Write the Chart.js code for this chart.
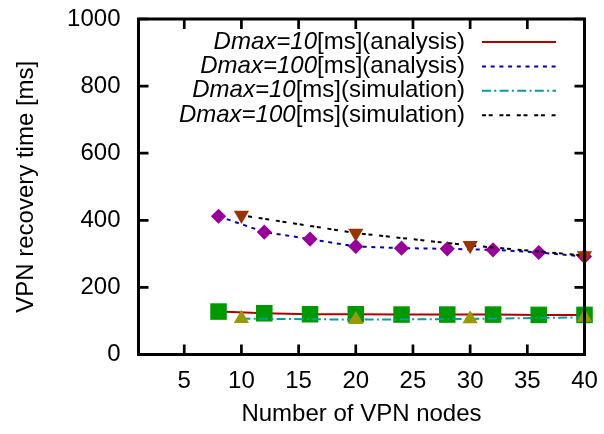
<!DOCTYPE html>
<html><head><meta charset="utf-8">
<script src="https://cdn.jsdelivr.net/npm/chart.js@4"></script>
<style>html,body{margin:0;padding:0;background:#fff}#wrap{width:604px;height:434px}</style>
</head><body><div id="wrap"><canvas id="c" width="604" height="434"></canvas></div>
<script>
// ---- data ----
const nodesAnalysis = [8, 12, 16, 20, 24, 28, 32, 36, 40];
const nodesSimulation = [10, 20, 30, 40];
const analysis10 = [128, 123, 120, 120, 119, 119, 119, 118, 118];
const analysis100 = [412, 365, 344, 322, 317, 315, 312, 304, 292];
const simulation10 = [107, 104, 106, 111];
const simulation100 = [415, 362, 325, 295];
const xTicks = [5, 10, 15, 20, 25, 30, 35, 40];
const yTicks = [0, 200, 400, 600, 800, 1000];
const seriesLabels = [
  'Dmax=10[ms](analysis)',
  'Dmax=100[ms](analysis)',
  'Dmax=10[ms](simulation)',
  'Dmax=100[ms](simulation)'
];
const xTitle = 'Number of VPN nodes';
const yTitle = 'VPN recovery time [ms]';

const FONT = '"Liberation Sans", Arial, Helvetica, sans-serif';
const pts = (xs, ys) => xs.map((x, i) => ({x: x, y: ys[i]}));

const lineDash = [[], [4, 4.7], [9, 3.3, 2, 3.3], [4, 2.7, 4, 6.7]];
const lineColors = ['#b00000', '#0000b4', '#00a0a0', '#000000'];

const zeroPad = s => { s.paddingTop = 0; s.paddingBottom = 0; s.paddingLeft = 0; s.paddingRight = 0; };

const framePlugin = {
  id: 'frame',
  afterDraw(chart) {
    const {ctx, chartArea: a, scales} = chart;
    ctx.save();
    ctx.strokeStyle = '#000';
    ctx.lineWidth = 3;
    ctx.lineCap = 'square';
    ctx.strokeRect(a.left, a.top, a.right - a.left, a.bottom - a.top);
    ctx.lineWidth = 2.7;
    ctx.lineCap = 'butt';
    const L = 10;
    ctx.beginPath();
    scales.x.ticks.forEach(t => {
      const px = scales.x.getPixelForValue(t.value);
      ctx.moveTo(px, a.bottom); ctx.lineTo(px, a.bottom - L);
      ctx.moveTo(px, a.top); ctx.lineTo(px, a.top + L);
    });
    scales.y.ticks.forEach(t => {
      const py = scales.y.getPixelForValue(t.value);
      ctx.moveTo(a.left, py); ctx.lineTo(a.left + L, py);
      ctx.moveTo(a.right, py); ctx.lineTo(a.right - L, py);
    });
    ctx.stroke();
    // legend
    const x0 = 465, rowY = [42, 66.4, 90.8, 115.2];
    ctx.textBaseline = 'middle';
    ctx.fillStyle = '#000';
    chart.data.datasets.forEach((ds, i) => {
      const label = ds.label;
      const k = label.indexOf('[');
      const italicPart = label.slice(0, k), normalPart = label.slice(k);
      const y = rowY[i];
      ctx.font = '24px ' + FONT;
      ctx.textAlign = 'right';
      const w = ctx.measureText(normalPart).width;
      ctx.fillText(normalPart, x0, y);
      ctx.font = 'italic 24px ' + FONT;
      ctx.fillText(italicPart, x0 - w, y);
      ctx.beginPath();
      ctx.strokeStyle = ds.borderColor;
      ctx.lineWidth = 2;
      ctx.setLineDash(ds.borderDash || []);
      ctx.moveTo(482, y); ctx.lineTo(556, y);
      ctx.stroke();
      ctx.setLineDash([]);
    });
    ctx.restore();
  }
};

new Chart(document.getElementById('c'), {
  type: 'line',
  data: {
    datasets: [
      {label: seriesLabels[0], data: pts(nodesAnalysis, analysis10), borderColor: lineColors[0], borderWidth: 2, borderDash: lineDash[0],
       pointStyle: 'rect', pointRadius: 11.7, pointBackgroundColor: '#009900', pointBorderColor: '#009900', pointBorderWidth: 0, order: 4},
      {label: seriesLabels[1], data: pts(nodesAnalysis, analysis100), borderColor: lineColors[1], borderWidth: 2, borderDash: lineDash[1],
       pointStyle: 'rectRot', pointRadius: 7.6, pointBackgroundColor: '#990099', pointBorderColor: '#990099', pointBorderWidth: 0, order: 3},
      {label: seriesLabels[2], data: pts(nodesSimulation, simulation10), borderColor: lineColors[2], borderWidth: 2, borderDash: lineDash[2],
       pointStyle: 'triangle', pointRadius: 8.8, pointBackgroundColor: '#999900', pointBorderColor: '#999900', pointBorderWidth: 0, order: 2},
      {label: seriesLabels[3], data: pts(nodesSimulation, simulation100), borderColor: lineColors[3], borderWidth: 2, borderDash: lineDash[3],
       pointStyle: 'triangle', pointRotation: 180, pointRadius: 8.8, pointBackgroundColor: '#993300', pointBorderColor: '#993300', pointBorderWidth: 0, order: 1}
    ]
  },
  options: {
    responsive: false,
    devicePixelRatio: 1,
    animation: false,
    clip: false,
    layout: {padding: {left: 0, top: 19, right: 19.5, bottom: 0}},
    plugins: {legend: {display: false}, tooltip: {enabled: false}},
    elements: {line: {tension: 0, fill: false}},
    scales: {
      x: {
        type: 'linear', min: 1, max: 40,
        afterBuildTicks: s => { s.ticks = xTicks.map(v => ({value: v})); },
        afterFit: s => { s.height = 79.5; zeroPad(s); },
        grid: {display: false, drawTicks: false},
        border: {display: false},
        ticks: {color: '#000', font: {family: FONT, size: 24}, padding: 12, maxRotation: 0, autoSkip: false,
                callback: v => String(v)},
        title: {display: true, text: xTitle, color: '#000', font: {family: FONT, size: 24}, padding: {top: 0, bottom: 5}}
      },
      y: {
        type: 'linear', min: 0, max: 1000,
        afterBuildTicks: s => { s.ticks = yTicks.map(v => ({value: v})); },
        afterFit: s => { s.width = 138.5; zeroPad(s); },
        grid: {display: false, drawTicks: false},
        border: {display: false},
        ticks: {color: '#000', font: {family: FONT, size: 24}, padding: 18, callback: v => String(v)},
        title: {display: true, text: yTitle, color: '#000', font: {family: FONT, size: 24}, padding: {top: 12, bottom: 0}}
      }
    }
  },
  plugins: [framePlugin]
});
</script>
</body></html>
